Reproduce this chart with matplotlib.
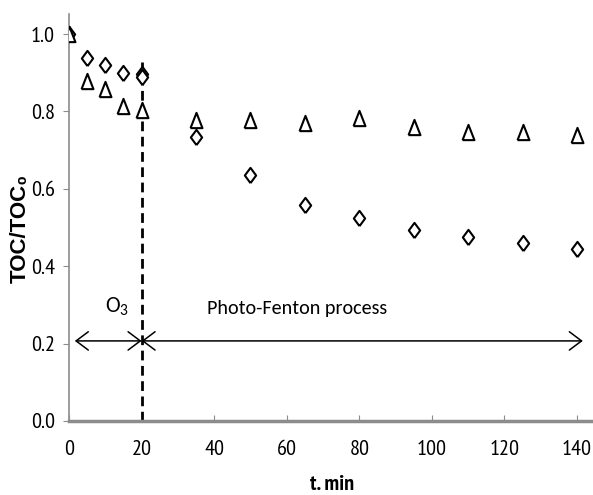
import numpy as np
import matplotlib
matplotlib.use('Agg')
import matplotlib.pyplot as plt

# TOC/TOC0 vs time
t_tri = [0, 5, 10, 15, 20, 35, 50, 65, 80, 95, 110, 125, 140]
toc_tri = [1.0, 0.88, 0.857, 0.814, 0.803, 0.778, 0.777, 0.770, 0.783, 0.760, 0.747, 0.747, 0.739]

t_dia = [0, 5, 10, 15, 20, 20, 35, 50, 65, 80, 95, 110, 125, 140]
toc_dia = [1.0, 0.938, 0.92, 0.899, 0.897, 0.89, 0.734, 0.636, 0.558, 0.525, 0.494, 0.476, 0.46, 0.444]

t_switch = 20
arrow_y = 0.207

narrow = ['PT Sans Narrow', 'DejaVu Sans']
calib = ['Carlito', 'DejaVu Sans']
plt.rcParams['font.family'] = ['Liberation Sans', 'DejaVu Sans']
plt.rcParams['mathtext.fontset'] = 'custom'
plt.rcParams['mathtext.rm'] = 'Carlito'

# squeezed marker shapes (reference looks horizontally compressed)
tri = [(-0.39, -0.5), (0.39, -0.5), (0.0, 0.5), (-0.39, -0.5)]
dia = [(0.0, -0.5), (0.37, 0.0), (0.0, 0.5), (-0.37, 0.0), (0.0, -0.5)]

fig = plt.figure(figsize=(5.93, 4.95), dpi=100)
ax = fig.add_axes([69/593, 1-421/495, 1-69/593, (421-14)/495])

ax.plot(t_dia, toc_dia, ls='none', marker=dia, ms=11, mfc='white', mec='black',
        mew=1.5, zorder=3)
ax.plot(t_tri, toc_tri, ls='none', marker=tri, ms=11, mfc='white', mec='black',
        mew=1.5, zorder=3)

ax.plot([t_switch, t_switch], [0, 0.928], color='black', lw=2.0, ls=(0, (3.5, 2)), zorder=2)

ap = dict(arrowstyle='<->,head_length=0.4,head_width=0.3', color='black', lw=1.1,
          mutation_scale=22, shrinkA=0, shrinkB=0)
ax.annotate('', xy=(1.6, arrow_y), xytext=(t_switch, arrow_y), arrowprops=ap)
ax.annotate('', xy=(t_switch, arrow_y), xytext=(141.6, arrow_y), arrowprops=ap)

ax.text(13.2, 0.295, r'$\mathrm{O}_3$', fontsize=16, ha='center', va='center')
ax.text(62.8, 0.292, 'Photo-Fenton process', fontsize=14.5, family=calib, ha='center', va='center')

ax.set_xlim(0, 144.4)
ax.set_ylim(0, 1.052)
ax.set_xticks(np.arange(0, 141, 20))
ax.set_yticks(np.arange(0, 1.01, 0.2))
ax.set_yticklabels(['%.1f' % v for v in np.arange(0, 1.01, 0.2)])

for lab in ax.get_xticklabels() + ax.get_yticklabels():
    lab.set_family(narrow)
    lab.set_fontsize(16)

ax.spines['top'].set_visible(False)
ax.spines['right'].set_visible(False)
ax.spines['left'].set_color('#8c8c8c')
ax.spines['left'].set_linewidth(1.2)
ax.spines['bottom'].set_color('#8c8c8c')
ax.spines['bottom'].set_linewidth(2.5)
ax.tick_params(axis='x', direction='in', length=4, color='#8c8c8c', pad=14)
ax.tick_params(axis='y', direction='out', length=4, color='#8c8c8c', pad=6)

ax.set_xlabel('t. min', fontsize=16, fontweight='bold', family=narrow)
ax.xaxis.set_label_coords(332/593, 1-485/495, transform=fig.transFigure)
ax.xaxis.label.set_va('center')
ax.set_ylabel('TOC/TOC\u2080', fontsize=16, fontweight='bold')
ax.yaxis.set_label_coords(20/593, 1-228/495, transform=fig.transFigure)
ax.yaxis.label.set_va('center')

fig.savefig('out.png', dpi=100)
